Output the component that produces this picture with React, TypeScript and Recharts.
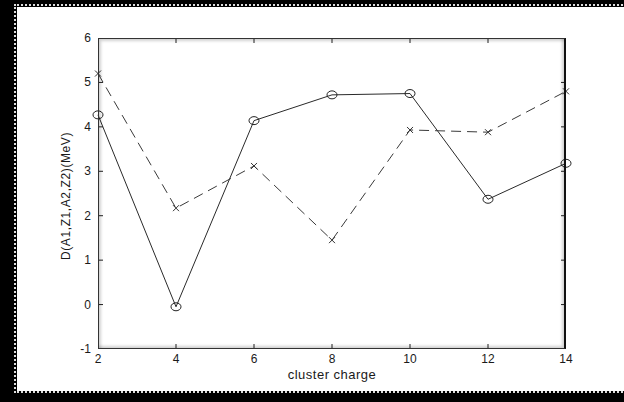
import React from "react";
import { LineChart, Line, XAxis, YAxis } from "recharts";

const charges = [2, 4, 6, 8, 10, 12, 14];
const circleSeries = [4.27, -0.05, 4.14, 4.72, 4.75, 2.37, 3.18];
const crossSeries = [5.2, 2.17, 3.12, 1.45, 3.93, 3.88, 4.8];
const xTicks = [2, 4, 6, 8, 10, 12, 14];
const yTicks = [-1, 0, 1, 2, 3, 4, 5, 6];

const data = charges.map((c, i) => ({ charge: c, circ: circleSeries[i], cross: crossSeries[i] }));

const W = 624;
const H = 402;
const PLOT_LEFT = 98;
const PLOT_RIGHT = 566;
const PLOT_TOP = 38;
const PLOT_BOTTOM = 349;
const Y_AXIS_W = 60;
const X_AXIS_H = 30;
const TICK_LEN = 5;
const X_TICK_GAP = 4;
const Y_TICK_GAP = 6;

const font = "'Liberation Sans', Arial, sans-serif";

const XTick = (props: any) => {
  const { x, y, payload } = props;
  const axisY = y - X_TICK_GAP;
  const edge = payload.value === 2 || payload.value === 14;
  return (
    <g>
      {!edge && <line x1={x} x2={x} y1={axisY} y2={axisY - TICK_LEN} stroke="#222" />}
      {!edge && <line x1={x} x2={x} y1={PLOT_TOP} y2={PLOT_TOP + TICK_LEN} stroke="#222" />}
      <text x={x} y={axisY + 14} textAnchor="middle" fontSize={12} fontFamily={font} fill="#1a1a1a">
        {payload.value}
      </text>
    </g>
  );
};

const YTick = (props: any) => {
  const { x, y, payload } = props;
  const axisX = x + Y_TICK_GAP;
  const edge = payload.value === -1 || payload.value === 6;
  return (
    <g>
      {!edge && <line x1={axisX} x2={axisX + TICK_LEN} y1={y} y2={y} stroke="#222" />}
      {!edge && <line x1={PLOT_RIGHT} x2={PLOT_RIGHT - TICK_LEN} y1={y} y2={y} stroke="#222" />}
      <text x={x - 1} y={y + 4} textAnchor="end" fontSize={12} fontFamily={font} fill="#1a1a1a">
        {payload.value}
      </text>
    </g>
  );
};

const CircleDot = (props: any) => {
  const { cx, cy } = props;
  return <ellipse cx={cx} cy={cy} rx={5} ry={4} fill="none" stroke="#222" strokeWidth={1} />;
};

const CrossDot = (props: any) => {
  const { cx, cy } = props;
  const s = 3;
  return (
    <g stroke="#333" strokeWidth={1}>
      <line x1={cx - s} y1={cy - s} x2={cx + s} y2={cy + s} />
      <line x1={cx - s} y1={cy + s} x2={cx + s} y2={cy - s} />
    </g>
  );
};

const box = (s: React.CSSProperties): React.CSSProperties => ({ position: "absolute", ...s });

export default function App() {
  return (
    <div style={{ position: "absolute", left: 0, top: 0, width: W, height: H, overflow: "hidden", background: "#fff" }}>
      {/* outer frame: black bands with a dotted inner rule */}
      <div style={box({ left: 0, top: 0, width: W, height: 7, background: "#000" })} />
      <div style={box({ left: 0, top: 0, width: 17, height: H, background: "#000" })} />
      <div style={box({ left: 0, top: 391, width: W, height: 11, background: "#000" })} />
      <div style={box({ left: 14, top: 4, width: W, height: 0, borderTop: "2px dotted #ddd" })} />
      <div style={box({ left: 14, top: 4, width: 0, height: 389, borderLeft: "2px dotted #ddd" })} />
      <div style={box({ left: 14, top: 391, width: W, height: 0, borderTop: "2px dotted #ddd" })} />

      <div style={{ position: "absolute", left: 0, top: 0 }}>
        <LineChart
          width={W}
          height={H}
          data={data}
          margin={{
            top: PLOT_TOP,
            right: W - PLOT_RIGHT,
            left: PLOT_LEFT - Y_AXIS_W,
            bottom: H - PLOT_BOTTOM - X_AXIS_H,
          }}
        >
          <XAxis
            dataKey="charge"
            type="number"
            domain={[2, 14]}
            ticks={xTicks}
            height={X_AXIS_H}
            axisLine={false}
            tickLine={false}
            tickSize={0}
            tickMargin={X_TICK_GAP}
            tick={<XTick />}
            interval={0}
          />
          <YAxis
            type="number"
            domain={[-1, 6]}
            ticks={yTicks}
            width={Y_AXIS_W}
            axisLine={false}
            tickLine={false}
            tickSize={0}
            tickMargin={Y_TICK_GAP}
            tick={<YTick />}
            interval={0}
          />
          <Line
            dataKey="circ"
            stroke="#2a2a2a"
            strokeWidth={1}
            dot={<CircleDot />}
            activeDot={false}
            isAnimationActive={false}
          />
          <Line
            dataKey="cross"
            stroke="#3a3a3a"
            strokeWidth={1}
            strokeDasharray="10 6"
            dot={<CrossDot />}
            activeDot={false}
            isAnimationActive={false}
          />
        </LineChart>
      </div>

      {/* plot frame */}
      <div
        style={box({
          left: PLOT_LEFT,
          top: PLOT_TOP,
          width: PLOT_RIGHT - PLOT_LEFT,
          height: PLOT_BOTTOM - PLOT_TOP,
          boxSizing: "border-box",
          border: "1px solid #333",
          borderRight: "2px solid #111",
          boxShadow: "inset 2px 2px 3px rgba(0,0,0,0.18), inset -2px -2px 3px rgba(0,0,0,0.18)",
          pointerEvents: "none",
        })}
      />

      <div
        style={box({
          left: 332,
          top: 367,
          transform: "translateX(-50%)",
          fontFamily: font,
          fontSize: 13,
          letterSpacing: 0.5,
          color: "#1a1a1a",
          whiteSpace: "nowrap",
        })}
      >
        cluster charge
      </div>
      <div
        style={box({
          left: 66,
          top: 196,
          transform: "translate(-50%, -50%) rotate(-90deg)",
          fontFamily: font,
          fontSize: 12,
          letterSpacing: 0.6,
          color: "#1a1a1a",
          whiteSpace: "nowrap",
        })}
      >
        D(A1,Z1,A2,Z2)(MeV)
      </div>
    </div>
  );
}
